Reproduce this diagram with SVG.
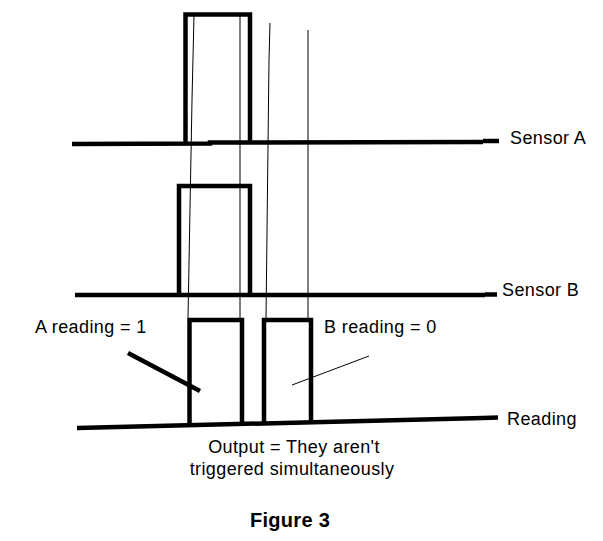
<svg xmlns="http://www.w3.org/2000/svg" width="603" height="541" viewBox="0 0 603 541">
<style>
.thick{fill:none;stroke:#000;stroke-width:4.5;stroke-linecap:butt}
.thin{fill:none;stroke:#000;stroke-width:1}
text{font-family:"Liberation Sans",Arial,sans-serif;font-size:18px;letter-spacing:0.4px;fill:#000}
.b{font-weight:bold;font-size:20px;letter-spacing:0.3px}
</style>
<rect width="603" height="541" fill="#fff"/>
<g id="connectors">
<polyline class="thin" points="194,15 192,100 188,318"/>
<line class="thin" x1="240" y1="15" x2="240" y2="318"/>
<polyline class="thin" points="270,23 269,60 266,318"/>
<line class="thin" x1="308" y1="30" x2="308" y2="318"/>
<line class="thick" x1="128" y1="353" x2="200" y2="391" stroke-linecap="round"/>
<line class="thin" x1="292" y1="385" x2="369" y2="356"/>
</g>
<g id="sensorA">
<polyline class="thick" points="72,144 210,143.5 210,142.5 483,142"/>
<line class="thick" x1="483" y1="141" x2="499" y2="141" stroke-width="5.5"/>
<polyline class="thick" points="185.5,144 185.5,14.5 250,14.5 250,144" stroke-width="5"/>
<text x="510" y="144">Sensor A</text>
</g>
<g id="sensorB">
<line class="thick" x1="75" y1="295" x2="485" y2="295"/>
<line class="thick" x1="485" y1="294.5" x2="497" y2="294.5" stroke-width="5.5"/>
<polyline class="thick" points="179,295 179,186 250,186 250,295" stroke-width="4"/>
<text x="502" y="296">Sensor B</text>
</g>
<g id="reading">
<line class="thick" x1="77" y1="428" x2="483" y2="418"/>
<line class="thick" x1="483" y1="418" x2="498" y2="417.5" stroke-width="5.5"/>
<polyline class="thick" points="189.5,424 189.5,320 242,320 242,423"/>
<polyline class="thick" points="264,423 264,320 311,320 311,422"/>
<text x="507" y="425">Reading</text>
</g>
<g id="labels">
<text x="35" y="333">A reading = 1</text>
<text x="324" y="333">B reading = 0</text>
<text x="294" y="453" text-anchor="middle">Output = They aren't</text>
<text x="292" y="475" text-anchor="middle">triggered simultaneously</text>
<text class="b" x="290" y="527" text-anchor="middle">Figure 3</text>
</g>
</svg>
